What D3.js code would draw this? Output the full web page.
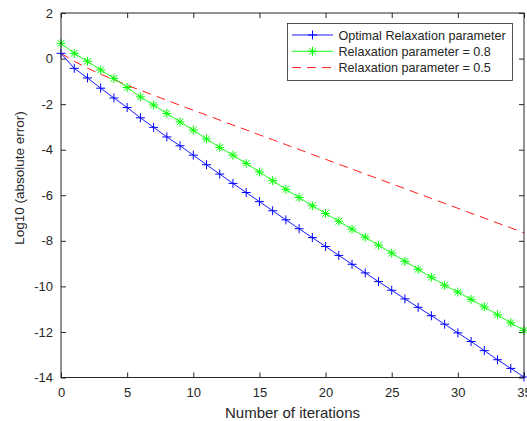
<!DOCTYPE html>
<html><head><meta charset="utf-8">
<script src="https://cdn.jsdelivr.net/npm/d3@7/dist/d3.min.js"></script>
<style>
body{margin:0;background:#fff}
svg text{font-family:"Liberation Sans",Arial,Helvetica,sans-serif;fill:#262626}
</style>
</head><body>
<svg id="chart" width="527" height="421"></svg>
<script>
// ---- data ----
const iterations = [0,1,2,3,4,5,6,7,8,9,10,11,12,13,14,15,16,17,18,19,20,21,22,23,24,25,26,27,28,29,30,31,32,33,34,35];
const optimalValues = [0.23,-0.43,-0.85,-1.30,-1.73,-2.15,-2.60,-3.02,-3.44,-3.83,-4.24,-4.66,-5.07,-5.48,-5.88,-6.28,-6.68,-7.08,-7.47,-7.86,-8.25,-8.64,-9.03,-9.41,-9.79,-10.17,-10.55,-10.92,-11.29,-11.66,-12.04,-12.42,-12.82,-13.22,-13.60,-13.98];
const relax08Values = [0.67,0.23,-0.12,-0.50,-0.87,-1.27,-1.68,-2.04,-2.41,-2.78,-3.14,-3.53,-3.90,-4.24,-4.60,-4.98,-5.36,-5.74,-6.10,-6.46,-6.80,-7.14,-7.49,-7.84,-8.19,-8.54,-8.90,-9.25,-9.60,-9.95,-10.25,-10.57,-10.90,-11.25,-11.60,-11.93];
const relax05Values = [0.23,-0.12,-0.42,-0.69,-0.93,-1.17,-1.39,-1.61,-1.83,-2.05,-2.27,-2.48,-2.70,-2.92,-3.13,-3.35,-3.56,-3.78,-3.99,-4.21,-4.42,-4.64,-4.85,-5.07,-5.28,-5.50,-5.71,-5.93,-6.14,-6.36,-6.57,-6.79,-7.00,-7.22,-7.43,-7.65];
const xTicks = [0,5,10,15,20,25,30,35];
const yTicks = [2,0,-2,-4,-6,-8,-10,-12,-14];
const seriesNames = ["Optimal Relaxation parameter","Relaxation parameter = 0.8","Relaxation parameter = 0.5"];
const xLabel = "Number of iterations";
const yLabel = "Log10 (absolute error)";

// ---- layout ----
const L = 61, R = 524, T = 13, B = 377.5;
const svg = d3.select("#chart");
const x = d3.scaleLinear().domain([0,35]).range([L,R]);
const y = d3.scaleLinear().domain([-14,2]).range([B,T]);
const axisColor = "#262626";

// axes
const gx = svg.append("g").attr("transform",`translate(0,${B})`)
  .call(d3.axisBottom(x).tickValues(xTicks).tickFormat(d3.format("d")).tickSizeInner(-5).tickSizeOuter(0).tickPadding(10));
const gxTop = svg.append("g").attr("transform",`translate(0,${T})`)
  .call(d3.axisTop(x).tickValues(xTicks).tickFormat("").tickSizeInner(-5).tickSizeOuter(0));
const gy = svg.append("g").attr("transform",`translate(${L},0)`)
  .call(d3.axisLeft(y).tickValues(yTicks).tickFormat(d3.format("d")).tickSizeInner(-5).tickSizeOuter(0).tickPadding(8));
const gyR = svg.append("g").attr("transform",`translate(${R},0)`)
  .call(d3.axisRight(y).tickValues(yTicks).tickFormat("").tickSizeInner(-5).tickSizeOuter(0));
[gx,gxTop,gy,gyR].forEach(g=>{
  g.select(".domain").remove();
  g.selectAll(".tick line").attr("stroke",axisColor).attr("stroke-width",1);
  g.selectAll(".tick text").attr("fill",axisColor).style("font-size","13px")
   .style("font-family","'Liberation Sans',Arial,sans-serif");
});
gy.selectAll(".tick text").text(d=>d<0?"-"+Math.abs(d):d);

// data
const seriesData = [optimalValues, relax08Values, relax05Values];
const colors = ["#0000ff","#00ff00","#ff0000"];
const line = d3.line().x((d,i)=>x(iterations[i])).y(d=>y(d));

const plot = svg.append("g");
// red dashed
plot.append("path").datum(relax05Values).attr("d",line)
  .attr("fill","none").attr("stroke",colors[2]).attr("stroke-width",0.9).attr("stroke-dasharray","9,6");
// green with asterisks
plot.append("path").datum(relax08Values).attr("d",line)
  .attr("fill","none").attr("stroke",colors[1]).attr("stroke-width",0.9);
// blue with plus
plot.append("path").datum(optimalValues).attr("d",line)
  .attr("fill","none").attr("stroke",colors[0]).attr("stroke-width",0.9);

const s = 4.5, sd = 3.3;
const plusPath = (cx,cy)=>`M${cx-s},${cy}H${cx+s}M${cx},${cy-s}V${cy+s}`;
const starPath = (cx,cy)=>plusPath(cx,cy)+`M${cx-sd},${cy-sd}L${cx+sd},${cy+sd}M${cx-sd},${cy+sd}L${cx+sd},${cy-sd}`;

plot.selectAll(".star").data(relax08Values).enter().append("path")
  .attr("d",(d,i)=>starPath(x(iterations[i]),y(d)))
  .attr("stroke",colors[1]).attr("stroke-width",1).attr("fill","none");
plot.selectAll(".plus").data(optimalValues).enter().append("path")
  .attr("d",(d,i)=>plusPath(x(iterations[i]),y(d)))
  .attr("stroke",colors[0]).attr("stroke-width",1).attr("fill","none");

// box
svg.append("rect").attr("x",L).attr("y",T).attr("width",R-L).attr("height",B-T)
  .attr("fill","none").attr("stroke",axisColor).attr("stroke-width",1);

// axis labels
svg.append("text").attr("x",(L+R)/2).attr("y",418).attr("text-anchor","middle")
  .style("font-size","15px").text(xLabel);
svg.append("text").attr("transform","translate(24,178) rotate(-90)").attr("text-anchor","middle")
  .style("font-size","13.5px").text(yLabel);

// legend
const lg = svg.append("g");
lg.append("rect").attr("x",287.5).attr("y",23.5).attr("width",225).attr("height",57)
  .attr("fill","#fff").attr("stroke",axisColor).attr("stroke-width",0.8);
const ly = [35,51.3,67.6];
seriesNames.forEach((name,i)=>{
  const l = lg.append("line").attr("x1",292).attr("x2",333).attr("y1",ly[i]).attr("y2",ly[i])
    .attr("stroke",colors[i]).attr("stroke-width",0.9);
  if(i===2) l.attr("stroke-dasharray","9,6");
  if(i===0) lg.append("path").attr("d",plusPath(312.5,ly[i])).attr("stroke",colors[0]).attr("fill","none");
  if(i===1) lg.append("path").attr("d",starPath(312.5,ly[i])).attr("stroke",colors[1]).attr("fill","none");
  lg.append("text").attr("x",338.5).attr("y",ly[i]).attr("dy","0.36em")
    .style("font-size","12.6px").text(name);
});
</script>
</body></html>
